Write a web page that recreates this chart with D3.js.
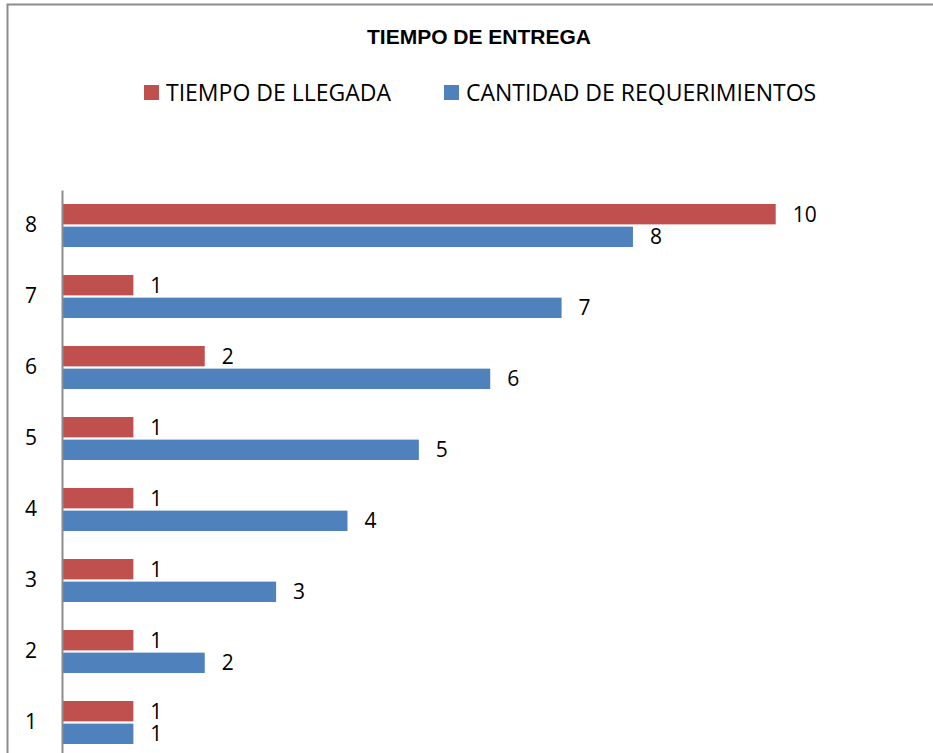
<!DOCTYPE html>
<html>
<head>
<meta charset="utf-8">
<script src="https://cdn.jsdelivr.net/npm/d3@7"></script>
<style>
  body { margin: 0; background: #fff; }
  svg { display: block; }
</style>
</head>
<body>
<script>
// data
const categories = ["1", "2", "3", "4", "5", "6", "7", "8"]
const tiempoLlegada = [1, 1, 1, 1, 1, 2, 1, 10]
const cantidadReq = [1, 2, 3, 4, 5, 6, 7, 8]
const seriesNames = ["TIEMPO DE LLEGADA", "CANTIDAD DE REQUERIMIENTOS"]
const seriesColors = ["#C0504D", "#4F81BD"]

const w = 933
const h = 753

const svg = d3.select("body")
  .append("svg")
  .attr("width", w)
  .attr("height", h)

// chart frame (cut off at right / bottom)
svg.append("path")
  .attr("d", `M7.5,${h + 5} V4.5 H${w + 5}`)
  .attr("fill", "none")
  .attr("stroke", "#8c8c8c")
  .attr("stroke-width", 2)

// title
svg.append("text")
  .attr("x", 479)
  .attr("y", 44)
  .attr("text-anchor", "middle")
  .style("font-family", "Liberation Sans, Arial, sans-serif")
  .style("font-weight", "bold")
  .style("font-size", "21px")
  .text("TIEMPO DE ENTREGA")

// scales
const yScale = d3.scaleBand()
  .domain(categories.slice().reverse())
  .range([190, 758])
  .paddingInner(0.394)
  .paddingOuter(0.197)

const ySub = d3.scaleBand()
  .domain([0, 1])
  .range([0, yScale.bandwidth()])
  .paddingInner(0.1)

const xScale = d3.scaleLinear()
  .domain([0, 10])
  .range([62, 775.7])

const rows = categories.map((c, i) => ({
  cat: c,
  vals: [tiempoLlegada[i], cantidadReq[i]]
}))

// bars
const groups = svg.selectAll(".cat")
  .data(rows)
  .enter()
  .append("g")
  .attr("class", "cat")
  .attr("transform", d => `translate(0,${yScale(d.cat)})`)

groups.selectAll("rect")
  .data(d => d.vals.map((v, s) => ({ v, s })))
  .enter()
  .append("rect")
  .attr("x", xScale(0))
  .attr("y", d => ySub(d.s))
  .attr("width", d => xScale(d.v) - xScale(0))
  .attr("height", ySub.bandwidth())
  .attr("fill", d => seriesColors[d.s])

// value labels
groups.selectAll("text")
  .data(d => d.vals.map((v, s) => ({ v, s })))
  .enter()
  .append("text")
  .attr("x", d => xScale(d.v) + 17)
  .attr("y", d => ySub(d.s) + ySub.bandwidth() / 2)
  .attr("dy", "0.36em")
  .style("font-family", "Open Sans, sans-serif")
  .style("font-size", "21px")
  .attr("fill", "#000")
  .text(d => d.v)

// category axis
const yAxis = d3.axisLeft(yScale).tickSize(0).tickPadding(25)
const axisG = svg.append("g")
  .attr("transform", `translate(${xScale(0)},0)`)
  .call(yAxis)
axisG.select(".domain")
  .attr("stroke", "#8c8c8c")
  .attr("stroke-width", 2)
axisG.selectAll("text")
  .style("font-family", "Open Sans, sans-serif")
  .style("font-size", "21px")
  .attr("fill", "#000")

// legend
const legendX = [144, 444]
const legend = svg.append("g").attr("id", "legend")
seriesNames.forEach((name, i) => {
  legend.append("rect")
    .attr("x", legendX[i])
    .attr("y", 85)
    .attr("width", 15)
    .attr("height", 15)
    .attr("fill", seriesColors[i])
  legend.append("text")
    .attr("x", legendX[i] + 22)
    .attr("y", 101)
    .style("font-family", "Open Sans, sans-serif")
    .style("font-size", "23px")
    .attr("fill", "#000")
    .text(name)
})
</script>
</body>
</html>
